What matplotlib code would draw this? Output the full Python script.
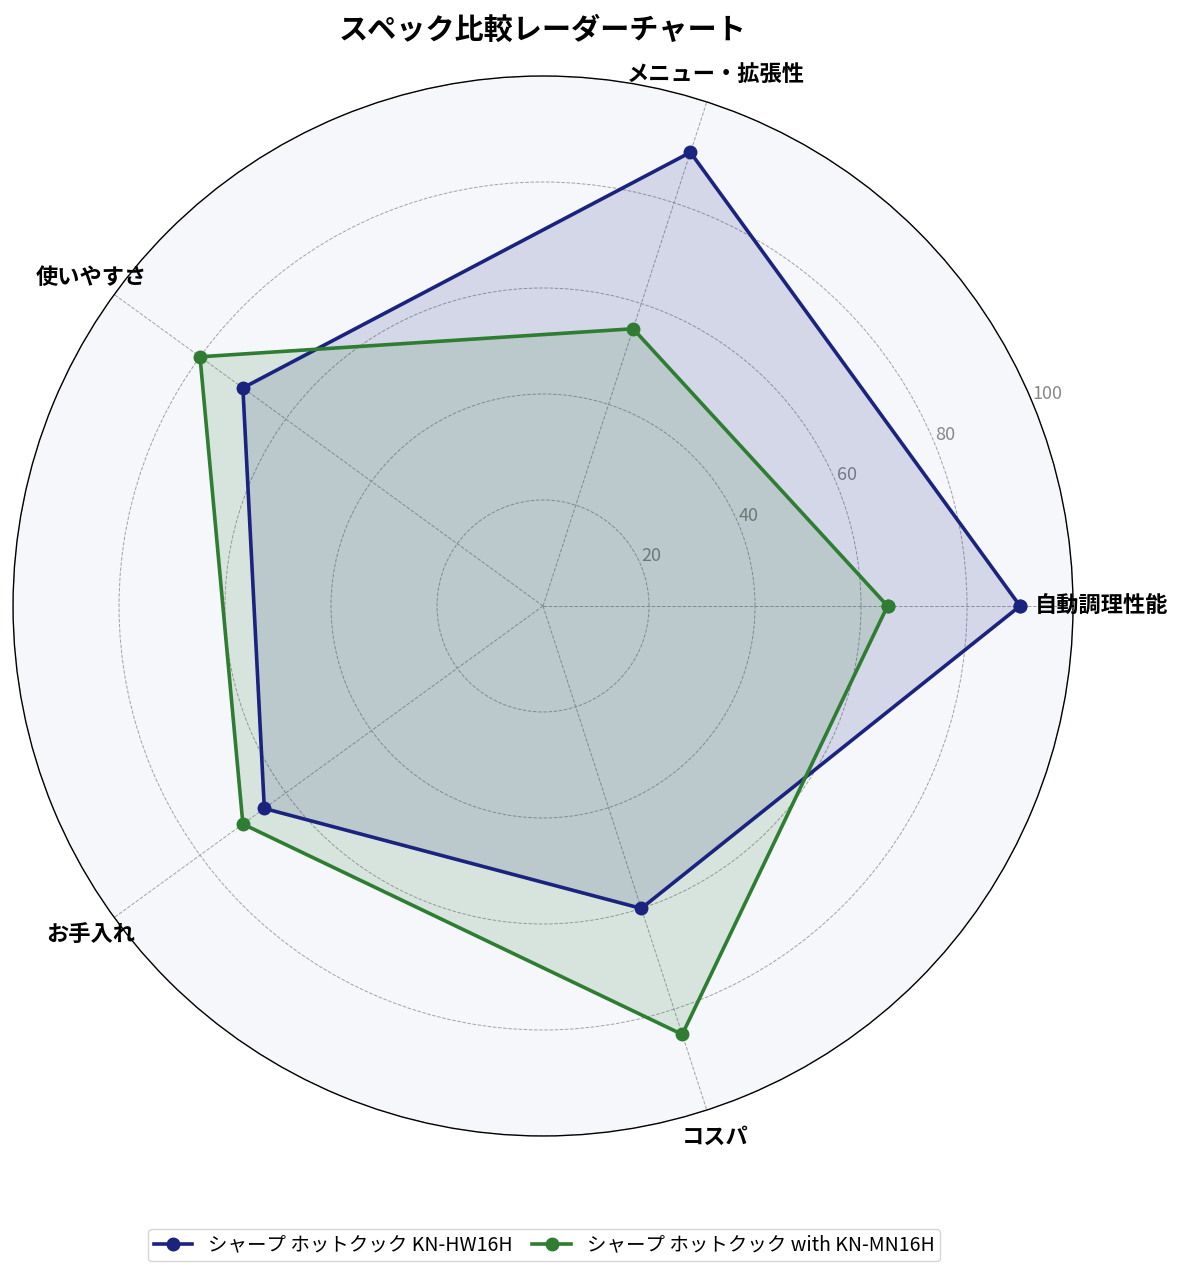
import numpy as np
import matplotlib
matplotlib.use("Agg")
import matplotlib.pyplot as plt

plt.rcParams['font.family'] = ['Noto Sans CJK JP', 'DejaVu Sans']

categories = ['自動調理性能', 'メニュー・拡張性', '使いやすさ', 'お手入れ', 'コスパ']
series_names = ['シャープ ホットクック KN-HW16H', 'シャープ ホットクック with KN-MN16H']
values_hw16h = [90, 90, 70, 65, 60]
values_mn16h = [65, 55, 80, 70, 85]
colors = ['#1a237e', '#2e7d32']
r_ticks = [20, 40, 60, 80, 100]
title = 'スペック比較レーダーチャート'

fig = plt.figure(figsize=(11.85, 12.79), dpi=100)
ax = fig.add_axes([0.011, 0.1118, 0.8945, 0.8288], projection='polar')
ax.set_facecolor('#f5f7fb')

n = len(categories)
angles = np.linspace(0, 2 * np.pi, n, endpoint=False).tolist()
angles_closed = angles + angles[:1]

for name, vals, col in zip(series_names, [values_hw16h, values_mn16h], colors):
    v = list(vals) + [vals[0]]
    ax.plot(angles_closed, v, color=col, linewidth=2.6, marker='o', markersize=9, label=name, zorder=3)
    ax.fill(angles_closed, v, color=col, alpha=0.15, zorder=2)

ax.set_ylim(0, 100)
ax.set_yticks(r_ticks)
ax.set_yticklabels([str(t) for t in r_ticks], color='#888888', fontsize=13)
ax.set_rlabel_position(22.5)
ax.set_xticks(angles)
ax.set_xticklabels(categories, fontsize=16, fontweight='bold')
ax.tick_params(axis='x', pad=10)
ax.grid(True, color='#999999', linestyle='--', linewidth=0.7, alpha=0.9)
ax.spines['polar'].set_color('black')
ax.spines['polar'].set_linewidth(1.0)

fig.text(0.458, 0.977, title, ha='center', va='center', fontsize=21, fontweight='bold')

fig.legend(loc='center', bbox_to_anchor=(0.459, 0.0265), ncol=2, fontsize=14,
           frameon=True, handlelength=2, columnspacing=1.0, borderpad=0.3)

fig.savefig('out.png', dpi=100)
